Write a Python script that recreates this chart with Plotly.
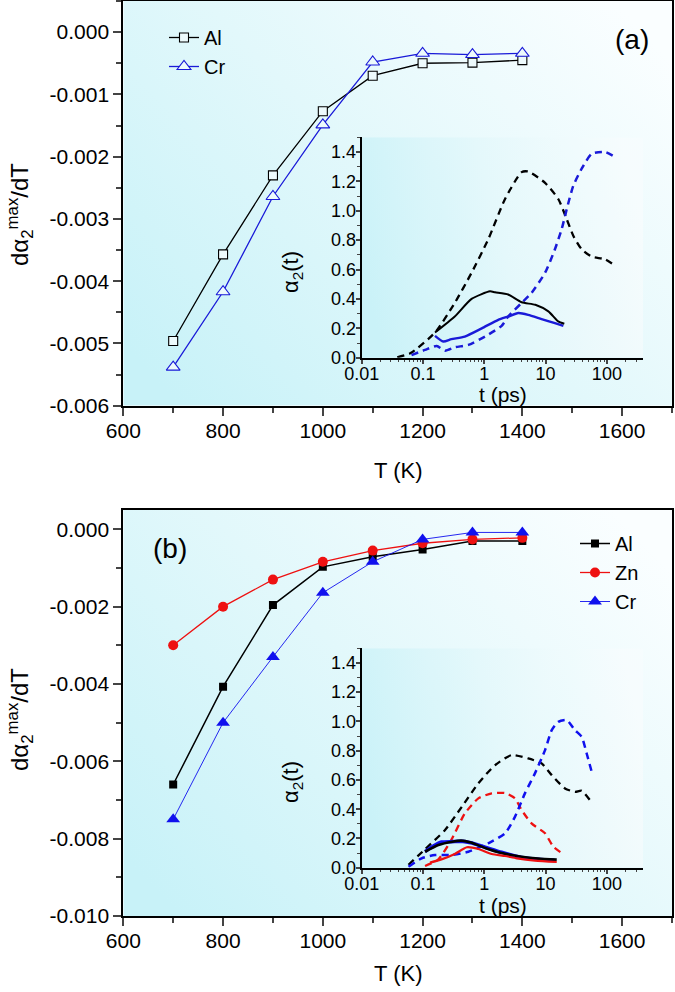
import base64
import plotly.graph_objects as go

# ---------------- data ----------------
T = [700, 800, 900, 1000, 1100, 1200, 1300, 1400]

# panel (a)
a_Al = [-0.00496, -0.00357, -0.00230, -0.00127, -0.00070, -0.00050, -0.00049, -0.00045]
a_Cr = [-0.00538, -0.00417, -0.00264, -0.00149, -0.00048, -0.00034, -0.00036, -0.00034]

# panel (b)
b_Al = [-0.00660, -0.00407, -0.00196, -0.00097, -0.00071, -0.00052, -0.00030, -0.00030]
b_Zn = [-0.00300, -0.00200, -0.00130, -0.00084, -0.00055, -0.00036, -0.00026, -0.00022]
b_Cr = [-0.00750, -0.00500, -0.00330, -0.00164, -0.00084, -0.00026, -0.00008, -0.00008]

# tick labels of the main y axes
a_ytickvals = [0.0, -0.001, -0.002, -0.003, -0.004, -0.005, -0.006]
a_yticktext = ["0.000", "-0.001", "-0.002", "-0.003", "-0.004", "-0.005", "-0.006"]
b_ytickvals = [0.0, -0.002, -0.004, -0.006, -0.008, -0.010]
b_yticktext = ["0.000", "-0.002", "-0.004", "-0.006", "-0.008", "-0.010"]

# inset (a)
ia_black_dash_t = [0.038, 0.062, 0.157, 0.33, 0.62, 1.16, 2.18, 4.07, 5.2, 9.8, 16.1, 22.1, 28.3, 38.8, 56.5, 93, 135]
ia_black_dash_v = [0.003, 0.03, 0.171, 0.373, 0.578, 0.806, 1.08, 1.263, 1.267, 1.19, 1.08, 0.943, 0.83, 0.738, 0.688, 0.67, 0.628]
ia_black_solid_t = [0.157, 0.33, 0.62, 1.24, 1.5, 2.45, 4.07, 6.8, 11.1, 16.1, 20.2]
ia_black_solid_v = [0.171, 0.28, 0.40, 0.452, 0.445, 0.43, 0.377, 0.36, 0.315, 0.247, 0.231]
ia_blue_solid_t = [0.157, 0.214, 0.29, 0.48, 0.91, 1.69, 2.45, 3.59, 5.2, 8.6, 14.2, 19.5]
ia_blue_solid_v = [0.149, 0.11, 0.126, 0.144, 0.2, 0.258, 0.28, 0.304, 0.292, 0.263, 0.235, 0.217]
ia_blue_dash_t = [0.065, 0.108, 0.167, 0.229, 0.33, 0.55, 1.03, 1.92, 2.45, 4.07, 5.9, 9.8, 14.2, 18.3, 22.1, 28.3, 38.8, 56.5, 93, 135]
ia_blue_dash_v = [0.018, 0.053, 0.08, 0.048, 0.071, 0.087, 0.144, 0.217, 0.28, 0.373, 0.441, 0.578, 0.738, 0.875, 1.01, 1.17, 1.286, 1.388, 1.40, 1.366]

# inset (b)
ib_black_dash_t = [0.058, 0.108, 0.229, 0.43, 0.80, 1.49, 2.8, 5.2, 8.6, 12.6, 20.7, 30.2, 38.8, 53]
ib_black_dash_v = [0.02, 0.126, 0.258, 0.417, 0.577, 0.70, 0.77, 0.747, 0.713, 0.633, 0.542, 0.519, 0.526, 0.462]
ib_red_dash_t = [0.108, 0.178, 0.29, 0.48, 0.80, 1.32, 2.18, 3.16, 4.07, 5.9, 9.8, 13.4, 18.3]
ib_red_dash_v = [0.012, 0.057, 0.19, 0.37, 0.474, 0.508, 0.51, 0.474, 0.394, 0.303, 0.235, 0.143, 0.10]
ib_blue_dash_t = [0.058, 0.095, 0.157, 0.29, 0.55, 1.16, 2.18, 3.16, 4.6, 6.7, 9.8, 12.6, 16.1, 22.1, 30.2, 38.8, 46.8, 56.5]
ib_blue_dash_v = [0.007, 0.064, 0.087, 0.087, 0.109, 0.167, 0.235, 0.348, 0.508, 0.645, 0.804, 0.94, 0.997, 1.009, 0.94, 0.895, 0.781, 0.656]
ib_blue_solid_t = [0.108, 0.15, 0.2, 0.3, 0.45, 0.6, 1.03, 1.92, 4.07, 7.6, 14]
ib_blue_solid_v = [0.11, 0.15, 0.175, 0.178, 0.18, 0.17, 0.14, 0.105, 0.07, 0.058, 0.05]
ib_black_solid_t = [0.108, 0.178, 0.3, 0.42, 0.6, 1.03, 1.92, 4.07, 7.6, 15.2]
ib_black_solid_v = [0.109, 0.155, 0.178, 0.185, 0.172, 0.135, 0.1, 0.075, 0.062, 0.055]
ib_red_solid_t = [0.13, 0.2, 0.33, 0.52, 0.8, 1.32, 2.18, 3.4, 6.7, 15.2]
ib_red_solid_v = [0.035, 0.057, 0.094, 0.14, 0.128, 0.094, 0.08, 0.064, 0.048, 0.039]

# ---------------- helpers ----------------
W, H = 675, 992
FONT = "Liberation Sans, Arial, sans-serif"


def px(x):
    return x / W


def py(y):
    return 1 - y / H


def grad_svg(c0, cm, c1, x1, y1, x2, y2):
    svg = (
        '<svg xmlns="http://www.w3.org/2000/svg" width="200" height="200" '
        'viewBox="0 0 200 200" preserveAspectRatio="none">'
        f'<defs><linearGradient id="g" x1="{x1}" y1="{y1}" x2="{x2}" y2="{y2}">'
        f'<stop offset="0" stop-color="{c0}"/><stop offset="0.5" stop-color="{cm}"/>'
        f'<stop offset="1" stop-color="{c1}"/></linearGradient></defs>'
        '<rect width="200" height="200" fill="url(#g)"/></svg>'
    )
    return "data:image/svg+xml;base64," + base64.b64encode(svg.encode()).decode()


MAIN_BG = grad_svg("#c8f2f8", "#e2f8fb", "#fafeff", 0, 0.85, 1, 0.15)
INSET_BG = grad_svg("#c9f2f8", "#e4f8fb", "#f7fdfe", 0, 0.6, 1, 0.4)

fig = go.Figure()

open_fill = "#edfafc"

# panel (a) main
fig.add_trace(go.Scatter(x=T, y=a_Al, name="Al", mode="lines+markers",
                         line=dict(color="black", width=1.3),
                         marker=dict(symbol="square", size=9, color=open_fill,
                                     line=dict(color="black", width=1.1)),
                         xaxis="x", yaxis="y", legend="legend"))
fig.add_trace(go.Scatter(x=T, y=a_Cr, name="Cr", mode="lines+markers",
                         line=dict(color="#1a1ad8", width=1.3),
                         marker=dict(symbol="triangle-up", size=12, color=open_fill,
                                     line=dict(color="#1a1ad8", width=1.1)),
                         xaxis="x", yaxis="y", legend="legend"))

# panel (b) main
fig.add_trace(go.Scatter(x=T, y=b_Al, name="Al", mode="lines+markers",
                         line=dict(color="black", width=1.5),
                         marker=dict(symbol="square", size=8, color="black"),
                         xaxis="x3", yaxis="y3", legend="legend2"))
fig.add_trace(go.Scatter(x=T, y=b_Zn, name="Zn", mode="lines+markers",
                         line=dict(color="#ee1111", width=1.3),
                         marker=dict(symbol="circle", size=10, color="#ee1111"),
                         xaxis="x3", yaxis="y3", legend="legend2"))
fig.add_trace(go.Scatter(x=T, y=b_Cr, name="Cr", mode="lines+markers",
                         line=dict(color="#1010ee", width=0.9),
                         marker=dict(symbol="triangle-up", size=12, color="#1010ee"),
                         xaxis="x3", yaxis="y3", legend="legend2"))

DASH = "7px,5px"


def inset_line(t, v, color, dash, width, xa, ya):
    fig.add_trace(go.Scatter(x=t, y=v, mode="lines", showlegend=False,
                             line=dict(color=color, width=width, dash=dash, shape="spline", smoothing=0.6),
                             xaxis=xa, yaxis=ya, hoverinfo="skip"))


# inset (a)
inset_line(ia_black_dash_t, ia_black_dash_v, "black", DASH, 2.3, "x2", "y2")
inset_line(ia_blue_dash_t, ia_blue_dash_v, "#1a1ad8", DASH, 2.5, "x2", "y2")
inset_line(ia_blue_solid_t, ia_blue_solid_v, "#1a1ad8", "solid", 2.4, "x2", "y2")
inset_line(ia_black_solid_t, ia_black_solid_v, "black", "solid", 2.0, "x2", "y2")

# inset (b)
inset_line(ib_black_dash_t, ib_black_dash_v, "black", DASH, 2.3, "x4", "y4")
inset_line(ib_red_dash_t, ib_red_dash_v, "#ee1111", DASH, 2.3, "x4", "y4")
inset_line(ib_blue_dash_t, ib_blue_dash_v, "#1010ee", DASH, 2.5, "x4", "y4")
inset_line(ib_blue_solid_t, ib_blue_solid_v, "#1010ee", "solid", 3.6, "x4", "y4")
inset_line(ib_black_solid_t, ib_black_solid_v, "black", "solid", 2.6, "x4", "y4")
inset_line(ib_red_solid_t, ib_red_solid_v, "#ee1111", "solid", 2.2, "x4", "y4")

tickfont = dict(family=FONT, size=21, color="black")
insetfont = dict(family=FONT, size=18, color="black")

main_x = dict(range=[600, 1700], dtick=200, tick0=600, ticks="outside", ticklen=8, tickwidth=1.5,
              showline=True, linewidth=2, linecolor="black", mirror=True, showgrid=False,
              zeroline=False, tickfont=tickfont, automargin=False, ticklabelstandoff=-3,
              minor=dict(ticks="outside", ticklen=5, tickwidth=1.5, dtick=100, tick0=600, showgrid=False))


def main_y(rng, vals, text, dt):
    return dict(range=rng, tickmode="array", tickvals=vals, ticktext=text,
                ticks="outside", ticklen=8, tickwidth=1.5,
                showline=True, linewidth=2, linecolor="black", mirror=True, showgrid=False,
                zeroline=False, tickfont=tickfont, automargin=False,
                minor=dict(ticks="outside", ticklen=5, tickwidth=1.5, tickmode="linear",
                           dtick=dt / 2, tick0=0, showgrid=False))


inset_x = dict(type="log", range=[-2, 2.594], dtick=1, ticks="outside", ticklen=4, tickwidth=1.5,
               showline=True, linewidth=2, linecolor="black", mirror=False, showgrid=False,
               zeroline=False, tickfont=insetfont, automargin=False, ticklabelstandoff=-5,
               minor=dict(ticks="outside", ticklen=2.5, tickwidth=1.2, dtick="D1", showgrid=False))
inset_y = dict(range=[0, 1.5], dtick=0.2, tick0=0, ticks="outside", ticklen=4, tickwidth=1.5,
               showline=True, linewidth=2, linecolor="black", mirror=False, showgrid=False,
               zeroline=False, tickfont=insetfont, tickformat=".1f", automargin=False,
               ticklabelstandoff=-4,
               minor=dict(ticks="outside", ticklen=2.5, tickwidth=1.2, dtick=0.1, tick0=0, showgrid=False))

fig.update_layout(
    width=W, height=H,
    margin=dict(l=0, r=0, t=0, b=0, pad=0, autoexpand=False),
    paper_bgcolor="white",
    plot_bgcolor="rgba(0,0,0,0)",
    font=dict(family=FONT, color="black"),
    xaxis=dict(main_x, domain=[px(123.3), px(672)], anchor="y"),
    yaxis=dict(main_y([-0.006, 0.0005], a_ytickvals, a_yticktext, 0.001), domain=[py(405.7), py(1.0)], anchor="x"),
    xaxis3=dict(main_x, domain=[px(123.3), px(672)], anchor="y3"),
    yaxis3=dict(main_y([-0.010, 0.0005], b_ytickvals, b_yticktext, 0.002), domain=[py(916), py(510)], anchor="x3"),
    xaxis2=dict(inset_x, domain=[px(361.7), px(643.3)], anchor="y2"),
    yaxis2=dict(inset_y, domain=[py(357.7), py(137.3)], anchor="x2"),
    xaxis4=dict(inset_x, domain=[px(361.7), px(643.3)], anchor="y4"),
    yaxis4=dict(inset_y, domain=[py(867.7), py(648.3)], anchor="x4"),
    showlegend=True,
    legend=dict(x=px(164), y=py(18), xanchor="left", yanchor="top", bgcolor="rgba(0,0,0,0)",
                font=dict(family=FONT, size=20, color="black"), tracegroupgap=0),
    legend2=dict(x=px(575), y=py(524), xanchor="left", yanchor="top", bgcolor="rgba(0,0,0,0)",
                 font=dict(family=FONT, size=20, color="black"), tracegroupgap=0),
    images=[
        dict(source=MAIN_BG, xref="x domain", yref="y domain", x=0, y=1, sizex=1, sizey=1,
             sizing="stretch", layer="below", xanchor="left", yanchor="top"),
        dict(source=MAIN_BG, xref="x3 domain", yref="y3 domain", x=0, y=1, sizex=1, sizey=1,
             sizing="stretch", layer="below", xanchor="left", yanchor="top"),
        dict(source=INSET_BG, xref="x2 domain", yref="y2 domain", x=0, y=1, sizex=1, sizey=1,
             sizing="stretch", layer="below", xanchor="left", yanchor="top", opacity=0.9),
        dict(source=INSET_BG, xref="x4 domain", yref="y4 domain", x=0, y=1, sizex=1, sizey=1,
             sizing="stretch", layer="below", xanchor="left", yanchor="top", opacity=0.9),
    ],
)

ytitle = "dα<sub>2</sub><sup>max</sup>/dT"
ann = [
    dict(text="(a)", x=px(632), y=py(40), size=28),
    dict(text="(b)", x=px(170), y=py(548), size=28),
    dict(text="T (K)", x=px(398), y=py(470), size=22),
    dict(text="T (K)", x=px(398), y=py(973), size=22),
    dict(text=ytitle, x=px(20), y=py(215), size=24, angle=-90),
    dict(text=ytitle, x=px(20), y=py(720), size=24, angle=-90),
    dict(text="α<sub>2</sub>(t)", x=px(292), y=py(272), size=22, angle=-90),
    dict(text="α<sub>2</sub>(t)", x=px(292), y=py(782), size=22, angle=-90),
    dict(text="t (ps)", x=px(503), y=py(394), size=21),
    dict(text="t (ps)", x=px(503), y=py(905), size=21),
]
for a in ann:
    fig.add_annotation(text=a["text"], x=a["x"], y=a["y"], xref="paper", yref="paper",
                       xanchor="center", yanchor="middle", showarrow=False,
                       textangle=a.get("angle", 0),
                       font=dict(family=FONT, size=a["size"], color="black"))

fig.write_html("out.html", config={"displayModeBar": False},
               post_script="document.body.style.margin='0';document.body.style.overflow='hidden';")
